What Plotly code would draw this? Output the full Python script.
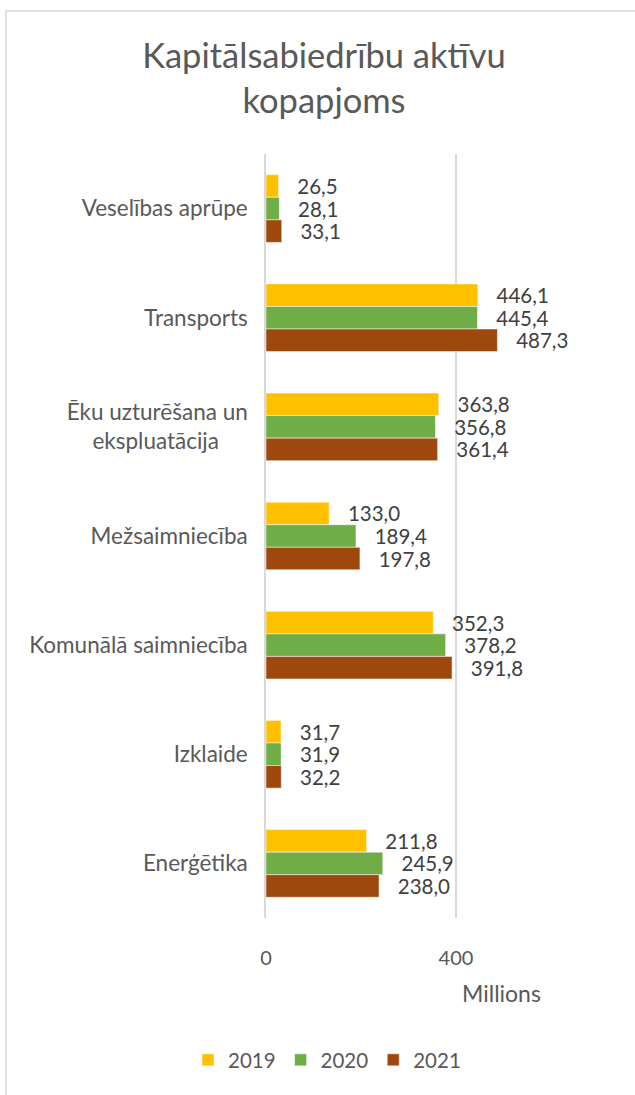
import plotly.graph_objects as go

NB = "\u00a0"
categories = ["Veselības aprūpe", "Transports",
              "Ēku uzturēšana un<br>ekspluatācija" + NB * 5,
              "Mežsaimniecība", "Komunālā saimniecība", "Izklaide", "Enerģētika"]
years = ["2019", "2020", "2021"]
v2019 = [26.5, 446.1, 363.8, 133.0, 352.3, 31.7, 211.8]
v2020 = [28.1, 445.4, 356.8, 189.4, 378.2, 31.9, 245.9]
v2021 = [33.1, 487.3, 361.4, 197.8, 391.8, 32.2, 238.0]
colors = ["#FFC000", "#70AD47", "#9E480E"]

FONT = "Lato"
W, H = 635, 1095
L, R, T, B = 266, 0, 154, 177
PW, PH = W - L - R, H - T - B

fig = go.Figure()
for name, vals, c in zip(years, [v2019, v2020, v2021], colors):
    fig.add_trace(go.Bar(
        y=categories, x=vals, name=name, orientation="h",
        marker=dict(color=c, line=dict(color="white", width=0.5)),
        texttemplate=NB * 3 + "%{x:.1f}", textposition="outside",
        textfont=dict(family=FONT, size=20.5, color="#404040"),
        constraintext="none", cliponaxis=False,
    ))

fig.update_layout(
    width=W, height=H,
    margin=dict(l=L, r=R, t=T, b=B),
    paper_bgcolor="white", plot_bgcolor="white",
    separators=", ",
    barmode="group", bargap=0.38, bargroupgap=0,
    title=dict(text="Kapitālsabiedrību aktīvu<br>kopapjoms",
               x=324 / W, xanchor="center", y=1 - 68 / H, yanchor="middle",
               font=dict(family=FONT, size=34.5, color="#595959")),
    font=dict(family=FONT, color="#595959"),
    legend=dict(orientation="h", x=(327 - L) / PW, xanchor="center",
                yref="container", y=1 - 1060 / H, yanchor="middle",
                font=dict(family=FONT, size=20.5, color="#595959"),
                itemwidth=30, traceorder="normal"),
    xaxis=dict(range=[0, 777], tickvals=[0, 400], showgrid=True,
               gridcolor="#d9d9d9", gridwidth=1.5, zeroline=False,
               showline=False, ticks="", ticklabelstandoff=26,
               tickfont=dict(family=FONT, size=20, color="#595959")),
    yaxis=dict(autorange="reversed", showgrid=False, showline=True,
               linecolor="#d9d9d9", linewidth=1.5,
               ticks="", ticklabelstandoff=12,
               tickfont=dict(family=FONT, size=22.5, color="#595959")),
    shapes=[
        dict(type="line", xref="paper", yref="paper",
             x0=-(L - 6) / PW, x1=-(L - 6) / PW,
             y0=1 + (T - 11) / PH, y1=-B / PH,
             line=dict(color="#d9d9d9", width=1.5)),
        dict(type="line", xref="paper", yref="paper",
             x0=-(L - 6) / PW, x1=1,
             y0=1 + (T - 11) / PH, y1=1 + (T - 11) / PH,
             line=dict(color="#d9d9d9", width=1.5)),
    ],
    annotations=[dict(text="Millions", xref="paper", yref="paper",
                      x=(501 - L) / PW, y=-(993 - (H - B)) / PH,
                      xanchor="center", yanchor="middle", showarrow=False,
                      font=dict(family=FONT, size=23, color="#595959"))],
)

fig.write_html("out.html", config={"displayModeBar": False},
               post_script="document.body.style.margin='0';document.body.style.overflow='hidden';")
